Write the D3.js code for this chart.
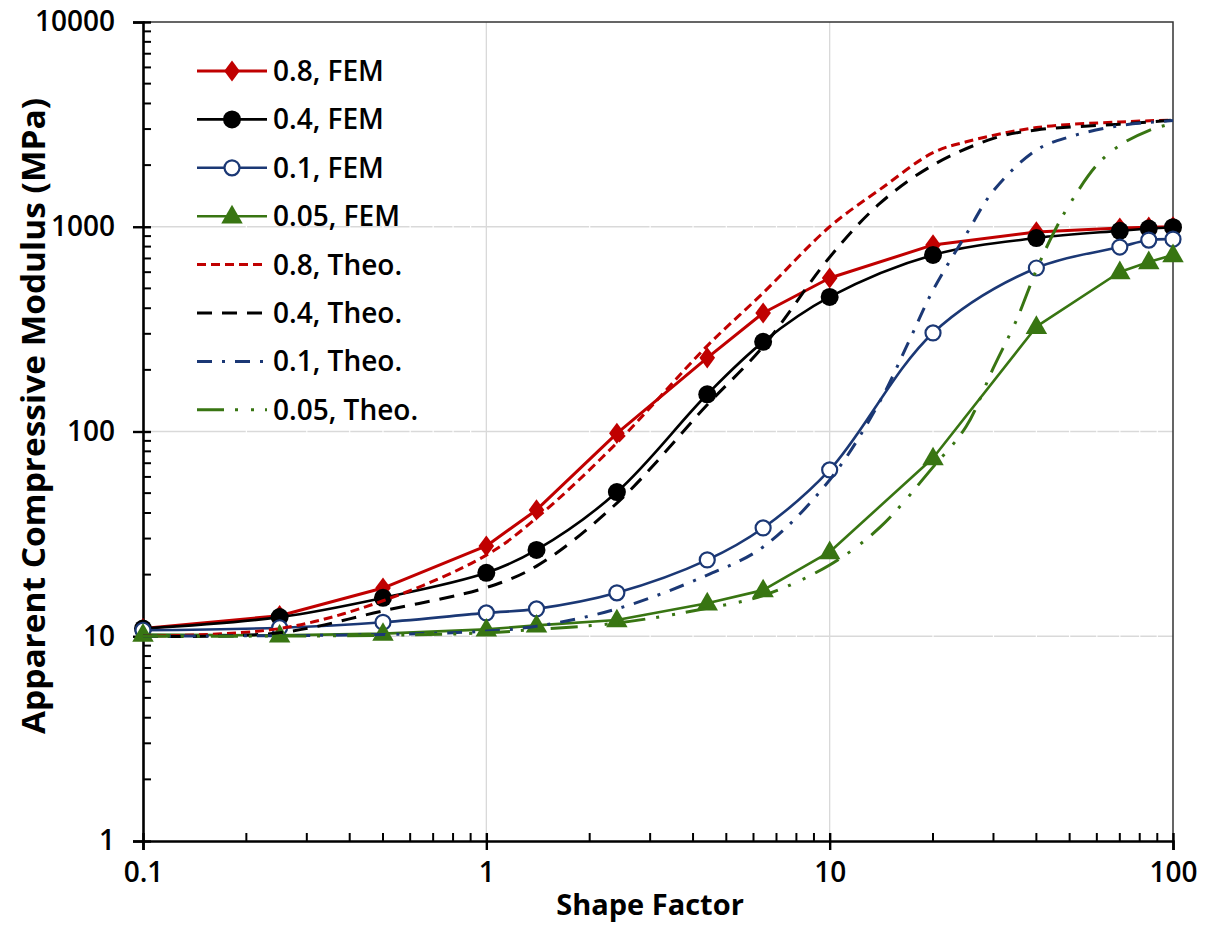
<!DOCTYPE html>
<html>
<head>
<meta charset="utf-8">
<script src="https://cdn.jsdelivr.net/npm/d3@7"></script>
<style>
  html, body { margin: 0; padding: 0; background: #ffffff; }
  svg { display: block; }
  text { font-family: "Open Sans", "Liberation Sans", Arial, sans-serif; fill: #000; }
</style>
</head>
<body>
<svg id="chart" width="1208" height="925"></svg>
<script>
// Shape factor at which the FEM models were evaluated
const shapeFactorFEM = [0.1, 0.25, 0.5, 1, 1.4, 2.4, 4.4, 6.4, 10, 20, 40, 70, 85, 100];

// FEM apparent compressive modulus (MPa), one array per ratio
const fem08  = [10.9, 12.6, 17.2, 27.6, 41.4, 98, 229, 379, 562, 815, 943, 985, 995, 1000];
const fem04  = [10.9, 12.4, 15.4, 20.4, 26.4, 50.6, 152, 274, 454, 728, 881, 955, 980, 995];
const fem01  = [10.7, 11.0, 11.7, 13.0, 13.6, 16.3, 23.6, 33.8, 64.9, 303, 629, 796, 861, 870];
const fem005 = [10.2, 10.1, 10.3, 10.8, 11.3, 12.0, 14.5, 16.8, 25.8, 74.2, 325, 601, 673, 728];

// Theoretical curves (shape factor, modulus in MPa)
const theo08S  = [0.1, 0.25, 0.5, 1, 1.4, 2.4, 4.4, 6.4, 10, 14, 20, 25, 40, 70, 100];
const theo08   = [10.0, 10.9, 14.9, 24.9, 37.8, 88, 262, 475, 1000, 1520, 2300, 2600, 3050, 3250, 3320];
const theo04S  = [0.1, 0.25, 0.5, 1, 1.4, 2.4, 4.4, 6.4, 10, 14, 20, 30, 40, 70, 100];
const theo04   = [10.0, 10.4, 13.3, 17.3, 22.0, 44.7, 135, 260, 710, 1300, 2000, 2700, 2970, 3170, 3320];
const theo01S  = [0.1, 0.5, 1, 1.4, 2.4, 4.4, 6.4, 10, 14, 17, 20, 25, 30, 40, 50, 70, 100];
const theo01   = [10.0, 10.2, 10.6, 11.2, 13.6, 19.9, 27.3, 58, 140, 275, 490, 920, 1500, 2370, 2750, 3120, 3300];
const theo005S = [0.1, 0.5, 1, 1.4, 2.4, 4.4, 6.4, 10, 14, 20, 25, 30, 35, 40, 45, 50, 60, 70, 85, 100];
const theo005  = [10.0, 10.1, 10.4, 10.8, 11.6, 13.7, 15.8, 22.3, 34, 67, 106, 205, 350, 615, 940, 1290, 2000, 2500, 2950, 3200];

// Axis ticks and labels
const xTickValues = [0.1, 1, 10, 100];
const xTickLabels = ["0.1", "1", "10", "100"];
const yTickValues = [1, 10, 100, 1000, 10000];
const yTickLabels = ["1", "10", "100", "1000", "10000"];

const seriesNames = ["0.8, FEM", "0.4, FEM", "0.1, FEM", "0.05, FEM",
                     "0.8, Theo.", "0.4, Theo.", "0.1, Theo.", "0.05, Theo."];

const RED = "#c00000", BLACK = "#000000", NAVY = "#1b3875", GREEN = "#387512";

const series = [
  { name: seriesNames[0], xs: shapeFactorFEM, ys: fem08,  color: RED,   width: 3,   dash: null, marker: "diamond", smooth: false },
  { name: seriesNames[1], xs: shapeFactorFEM, ys: fem04,  color: BLACK, width: 2.6, dash: null, marker: "dot",     smooth: true },
  { name: seriesNames[2], xs: shapeFactorFEM, ys: fem01,  color: NAVY,  width: 2.6, dash: null, marker: "ring",    smooth: true },
  { name: seriesNames[3], xs: shapeFactorFEM, ys: fem005, color: GREEN, width: 2.6, dash: null, marker: "triangle",smooth: false },
  { name: seriesNames[4], xs: theo08S,  ys: theo08,  color: RED,   width: 3,   dash: "9,5",              marker: null, smooth: true },
  { name: seriesNames[5], xs: theo04S,  ys: theo04,  color: BLACK, width: 3,   dash: "15,10",            marker: null, smooth: true },
  { name: seriesNames[6], xs: theo01S,  ys: theo01,  color: NAVY,  width: 3,   dash: "15,10,3,10",       marker: null, smooth: true },
  { name: seriesNames[7], xs: theo005S, ys: theo005, color: GREEN, width: 3,   dash: "27,11,3,13,3,11",  marker: null, smooth: true }
];

const plot = { left: 143, right: 1173, top: 22, bottom: 841 };

const svg = d3.select("#chart");

const x = d3.scaleLog().domain([0.1, 100]).range([plot.left, plot.right]);
const y = d3.scaleLog().domain([1, 10000]).range([plot.bottom, plot.top]);

// Minor tick positions (2..9 within each decade)
const minorX = [], minorY = [];
for (let d = 0.1; d < 100; d *= 10) for (let k = 2; k <= 9; k++) minorX.push(d * k);
for (let d = 1; d < 10000; d *= 10) for (let k = 2; k <= 9; k++) minorY.push(d * k);

// Major gridlines
const grid = svg.append("g");
grid.selectAll("line.gy").data([10, 100, 1000]).join("line")
  .attr("x1", plot.left).attr("x2", plot.right)
  .attr("y1", d => y(d)).attr("y2", d => y(d))
  .attr("stroke", "#d9d9d9").attr("stroke-width", 1.3);
grid.selectAll("line.gx").data([1, 10]).join("line")
  .attr("y1", plot.top).attr("y2", plot.bottom)
  .attr("x1", d => x(d)).attr("x2", d => x(d))
  .attr("stroke", "#d9d9d9").attr("stroke-width", 1.3);
// Minor gridlines are white, leaving small breaks in the major ones
grid.selectAll("line.mx").data(minorX).join("line")
  .attr("y1", plot.top).attr("y2", plot.bottom)
  .attr("x1", d => x(d)).attr("x2", d => x(d))
  .attr("stroke", "#ffffff").attr("stroke-width", 1.2);

// Plot area frame (top and right)
svg.append("path")
  .attr("d", `M${plot.left},${plot.top}H${plot.right}V${plot.bottom}`)
  .attr("fill", "none").attr("stroke", "#333").attr("stroke-width", 1.5);

// Axes
const xAxis = d3.axisBottom(x).tickValues(xTickValues)
  .tickFormat((d, i) => xTickLabels[i]).tickSize(9).tickPadding(12);
const gx = svg.append("g").attr("transform", `translate(0,${plot.bottom})`).call(xAxis);
gx.select(".domain").attr("stroke", "#000").attr("stroke-width", 2.6);
gx.selectAll(".tick line").attr("stroke", "#000").attr("stroke-width", 2.4).attr("y1", -8);
gx.selectAll(".tick text").attr("font-size", 28).attr("font-weight", 600).attr("fill", "#111");
gx.selectAll("line.minor").data(minorX).join("line").attr("class", "minor")
  .attr("x1", d => x(d)).attr("x2", d => x(d)).attr("y1", 0).attr("y2", -8)
  .attr("stroke", "#000").attr("stroke-width", 2);

const yAxis = d3.axisLeft(y).tickValues(yTickValues)
  .tickFormat((d, i) => yTickLabels[i]).tickSize(10).tickPadding(18);
const gy = svg.append("g").attr("transform", `translate(${plot.left},0)`).call(yAxis);
gy.select(".domain").attr("stroke", "#000").attr("stroke-width", 2.6);
gy.selectAll(".tick line").attr("stroke", "#000").attr("stroke-width", 2.4).attr("x1", 8);
gy.selectAll(".tick text").attr("font-size", 28).attr("font-weight", 600).attr("fill", "#111");
gy.selectAll("line.minor").data(minorY).join("line").attr("class", "minor")
  .attr("y1", d => y(d)).attr("y2", d => y(d)).attr("x1", 0).attr("x2", 8)
  .attr("stroke", "#000").attr("stroke-width", 2);

// Axis titles
svg.append("text")
  .attr("x", 650).attr("y", 915)
  .attr("text-anchor", "middle")
  .attr("font-size", 29).attr("font-weight", 700)
  .text("Shape Factor");
svg.append("text")
  .attr("transform", "translate(45,416) rotate(-90)")
  .attr("text-anchor", "middle")
  .attr("font-size", 32).attr("font-weight", 700)
  .attr("textLength", 636).attr("lengthAdjust", "spacingAndGlyphs")
  .text("Apparent Compressive Modulus (MPa)");

// Marker drawing
function drawMarker(g, type, color, cx, cy) {
  if (type === "diamond") {
    g.append("path")
      .attr("d", d3.symbol(d3.symbolDiamond, 160)())
      .attr("transform", `translate(${cx},${cy}) scale(1.15,0.9)`)
      .attr("fill", color);
  } else if (type === "dot") {
    g.append("circle").attr("cx", cx).attr("cy", cy).attr("r", 9).attr("fill", color);
  } else if (type === "ring") {
    g.append("circle").attr("cx", cx).attr("cy", cy).attr("r", 7.5)
      .attr("fill", "#fff").attr("stroke", color).attr("stroke-width", 2.2);
  } else if (type === "triangle") {
    g.append("path")
      .attr("d", d3.symbol(d3.symbolTriangle, 200)())
      .attr("transform", `translate(${cx},${cy + 1})`)
      .attr("fill", color);
  }
}

// Series lines and markers
const lines = svg.append("g");
series.forEach(s => {
  const pts = s.xs.map((v, i) => [v, s.ys[i]]);
  const gen = d3.line()
    .x(d => x(d[0])).y(d => y(d[1]))
    .curve(s.smooth ? d3.curveCatmullRom.alpha(0.5) : d3.curveLinear);
  const g = lines.append("g");
  g.append("path")
    .attr("d", gen(pts))
    .attr("fill", "none")
    .attr("stroke", s.color)
    .attr("stroke-width", s.width)
    .attr("stroke-dasharray", s.dash)
    .attr("stroke-linejoin", "round");
  if (s.marker) pts.forEach(p => drawMarker(g, s.marker, s.color, x(p[0]), y(p[1])));
});

// Legend
const legend = svg.append("g");
series.forEach((s, i) => {
  const ly = 71 + i * 48.4;
  const row = legend.append("g");
  row.append("line")
    .attr("x1", 197).attr("x2", 267).attr("y1", ly).attr("y2", ly)
    .attr("stroke", s.color).attr("stroke-width", s.width)
    .attr("stroke-dasharray", s.dash);
  if (s.marker) drawMarker(row, s.marker, s.color, 232, ly);
  row.append("text")
    .attr("x", 273).attr("y", ly).attr("dy", "0.36em")
    .attr("font-size", 28).attr("font-weight", 600).attr("fill", "#111")
    .text(s.name);
});
</script>
</body>
</html>
